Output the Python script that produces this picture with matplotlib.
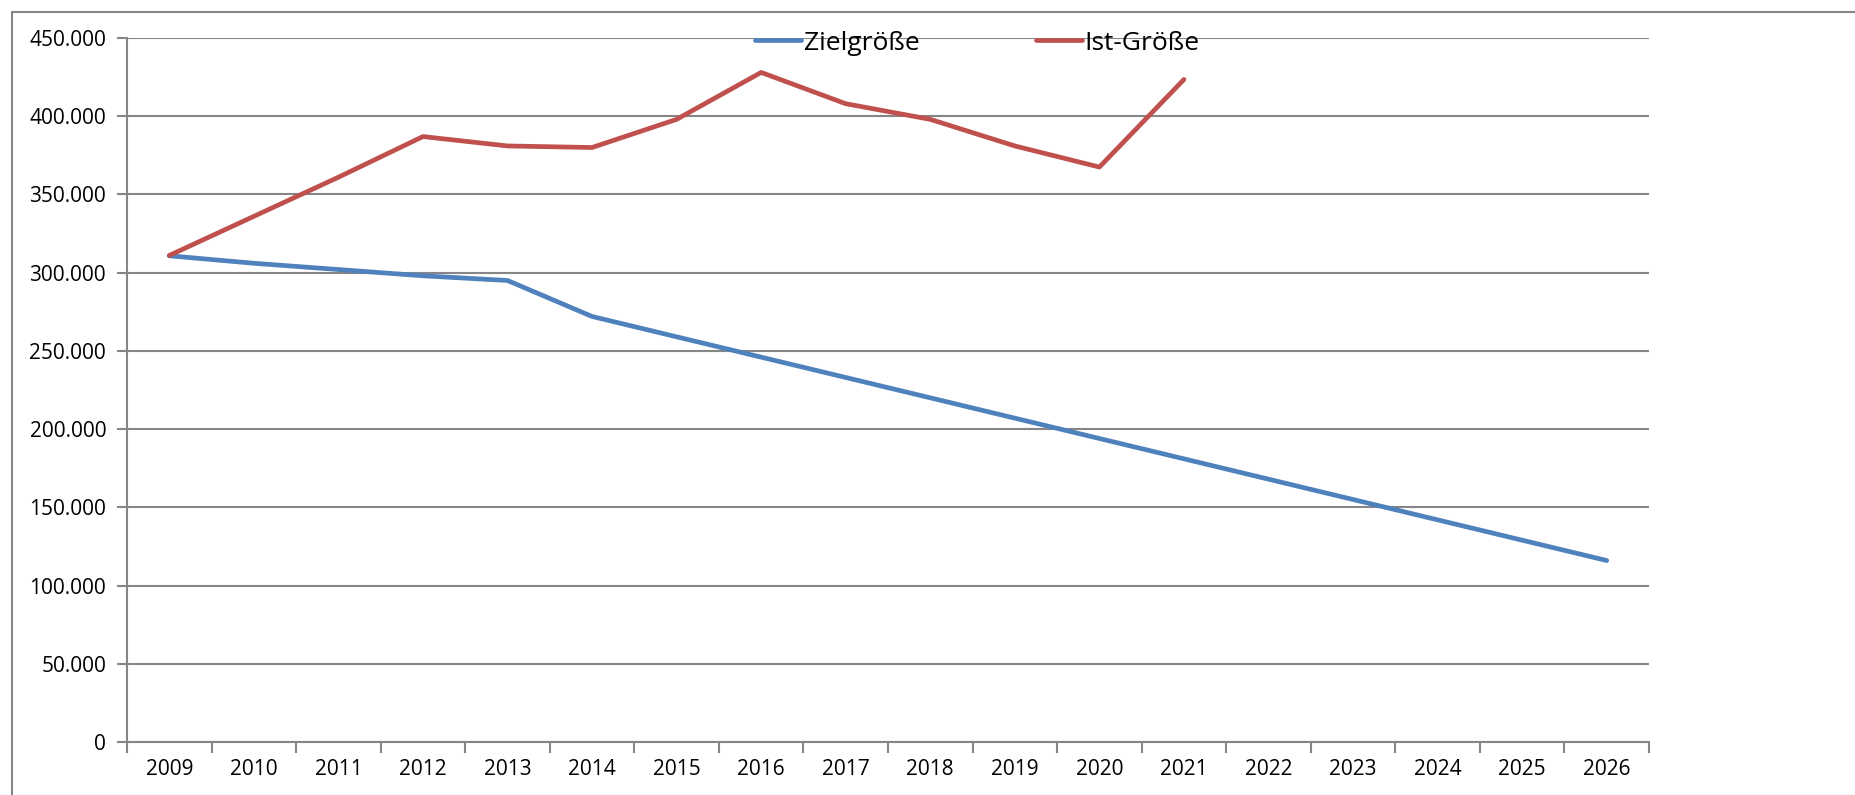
import matplotlib
matplotlib.use('Agg')
import matplotlib.pyplot as plt
from matplotlib.patches import Rectangle

plt.rcParams['font.family'] = ['Open Sans', 'DejaVu Sans']

# ---- data ----
years = [str(y) for y in range(2009, 2027)]
ziel = [310800, 306000, 302000, 298000, 295000, 272000, 259000, 246000, 233000,
        220000, 207000, 194000, 181000, 168000, 155000, 142000, 129000, 116000]
ist = [311000, 336000, 361000, 387000, 381000, 380000, 398000, 428000, 408000,
       398000, 381000, 367500, 423500]
y_ticks = [0, 50000, 100000, 150000, 200000, 250000, 300000, 350000, 400000, 450000]
y_labels = ['0', '50.000', '100.000', '150.000', '200.000', '250.000',
            '300.000', '350.000', '400.000', '450.000']

BLUE = '#4F81BD'
RED = '#C0504D'
GREY = '#868686'

fig = plt.figure(figsize=(18.55, 7.95), dpi=100)
ax = fig.add_axes([127 / 1855, 53 / 795, (1649 - 127) / 1855, (742 - 38) / 795])

# outer chart frame (runs off right and bottom)
fig.patches.append(Rectangle((12 / 1855, -0.1), 1.2, 1.1 - 12 / 795,
                             transform=fig.transFigure, fill=False,
                             edgecolor=GREY, linewidth=1.5, zorder=0))

xs_ziel = [i + 0.5 for i in range(len(ziel))]
xs_ist = [i + 0.5 for i in range(len(ist))]
ax.plot(xs_ziel, ziel, color=BLUE, linewidth=3.4, label='Zielgröße',
        solid_capstyle='round', zorder=3)
ax.plot(xs_ist, ist, color=RED, linewidth=3.4, label='Ist-Größe',
        solid_capstyle='round', zorder=3)

ax.set_xlim(0, len(years))
ax.set_ylim(0, 450000)

# y axis
ax.set_yticks(y_ticks)
ax.set_yticklabels(y_labels, fontsize=15)
ax.yaxis.grid(True, color=GREY, linewidth=1.5)
ax.set_axisbelow(True)

# x axis: tick marks between categories, labels centered
ax.set_xticks(range(len(years) + 1))
ax.set_xticklabels([])
ax.set_xticks(xs_ziel, minor=True)
ax.set_xticklabels(years, minor=True, fontsize=15)
ax.tick_params(axis='x', which='minor', length=0, pad=12)
ax.tick_params(axis='x', which='major', length=8, width=1.5, color=GREY)
ax.tick_params(axis='y', length=7, width=1.5, color=GREY, pad=8)

for s in ['top', 'right']:
    ax.spines[s].set_visible(False)
for s in ['left', 'bottom']:
    ax.spines[s].set_color(GREY)
    ax.spines[s].set_linewidth(1.5)

fig.legend(loc='center left', bbox_to_anchor=(755 / 1855, 1 - 43 / 795),
           ncol=2, frameon=False, fontsize=19, handlelength=1.75,
           handletextpad=0.1, columnspacing=4.4, borderpad=0, borderaxespad=0)

fig.savefig('out.png', dpi=100)
